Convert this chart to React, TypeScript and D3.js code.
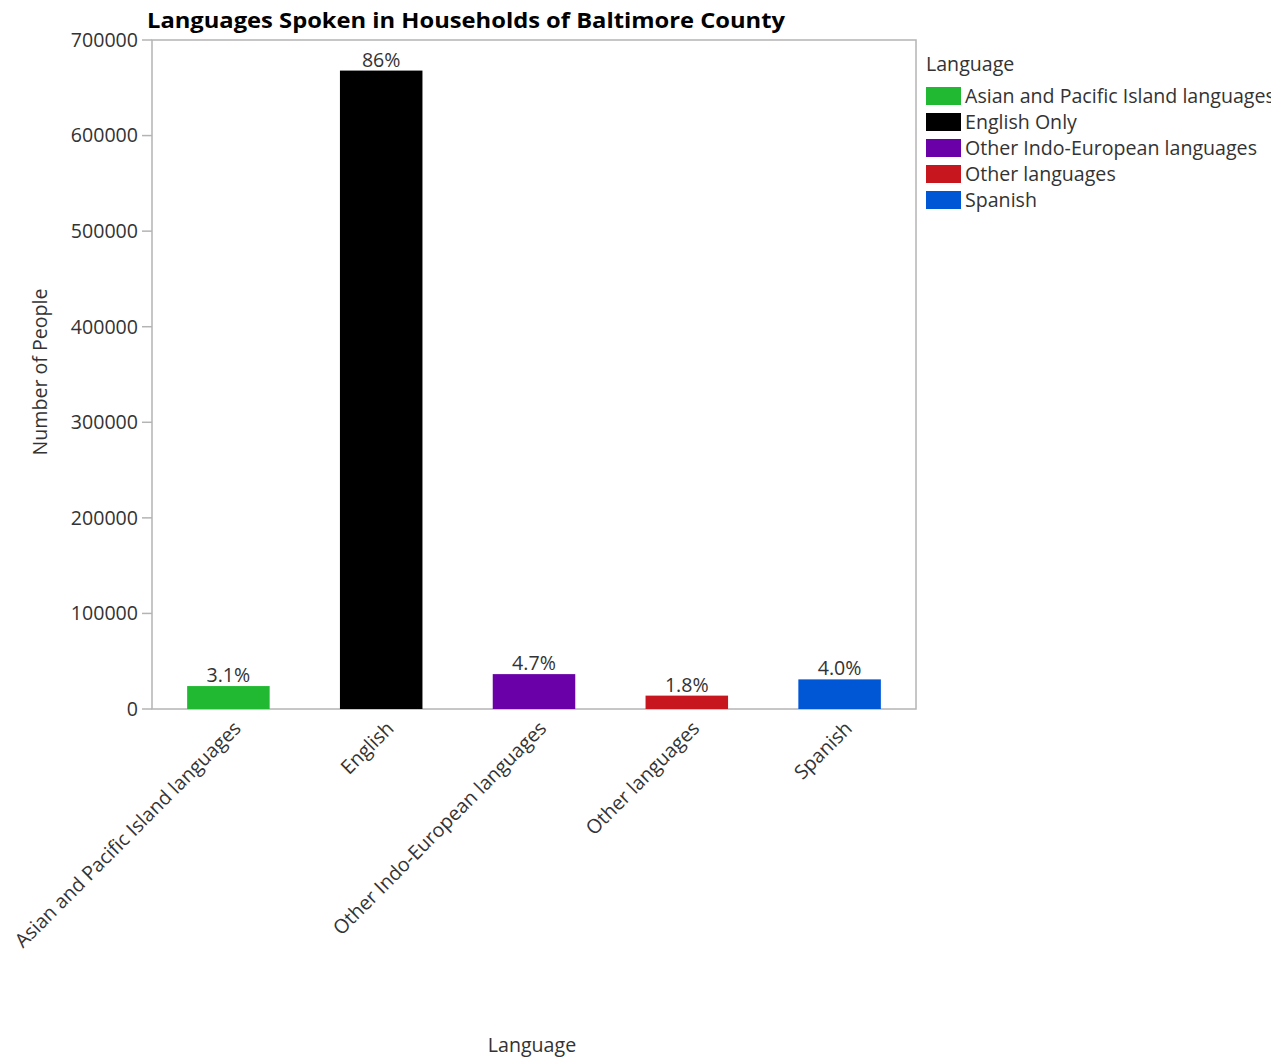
import React from "react";
import * as d3 from "d3";

const categories = [
  "Asian and Pacific Island languages",
  "English",
  "Other Indo-European languages",
  "Other languages",
  "Spanish",
];
const values = [24000, 668000, 36500, 14000, 31000];
const percentLabels = ["3.1%", "86%", "4.7%", "1.8%", "4.0%"];
const legendLabels = [
  "Asian and Pacific Island languages",
  "English Only",
  "Other Indo-European languages",
  "Other languages",
  "Spanish",
];
const colors = ["#22b932", "#000000", "#6a00a8", "#c8161f", "#0057d6"];
const yTicks = [0, 100000, 200000, 300000, 400000, 500000, 600000, 700000];

const FONT = "'Open Sans', 'Noto Sans', sans-serif";
const FS = 19.6;

export default function App() {
  const left = 152, right = 916, top = 40, bottom = 709;
  const x = d3.scaleBand<string>().domain(categories).range([left, right]).paddingInner(0.46).paddingOuter(0.23);
  const y = d3.scaleLinear().domain([0, 700000]).range([bottom, top]);
  const textCol = "#333";
  const axisCol = "#b4b4b4";

  return (
    <svg width={1271} height={1058} style={{ position: "absolute", left: 0, top: 0, background: "#fff" }} fontFamily={FONT}>
      <text x={147} y={28} fontSize={22} fontWeight="bold" fill="#000" textLength={638} lengthAdjust="spacingAndGlyphs">
        Languages Spoken in Households of Baltimore County
      </text>
      {/* plot frame */}
      <rect x={left} y={top} width={right - left} height={bottom - top} fill="none" stroke={axisCol} strokeWidth={1.5} />
      {/* y ticks */}
      {yTicks.map((t) => (
        <g key={t}>
          <line x1={left - 10} x2={left} y1={y(t)} y2={y(t)} stroke={axisCol} strokeWidth={1.5} />
          <text x={left - 14} y={y(t)} dy="0.35em" textAnchor="end" fontSize={FS} fill={textCol}>
            {t}
          </text>
        </g>
      ))}
      {/* bars */}
      {categories.map((c, i) => (
        <g key={c}>
          <rect x={x(c)} y={y(values[i])} width={x.bandwidth()} height={bottom - y(values[i])} fill={colors[i]} />
          <text x={(x(c) as number) + x.bandwidth() / 2} y={y(values[i]) - 4} textAnchor="middle" fontSize={FS} fill={textCol}>
            {percentLabels[i]}
          </text>
          <text
            transform={`translate(${(x(c) as number) + x.bandwidth() / 2 + 4},${bottom + 11}) rotate(-45)`}
            textAnchor="end"
            dy="0.7em"
            fontSize={FS}
            fill={textCol}
          >
            {c}
          </text>
        </g>
      ))}
      {/* axis titles */}
      <text transform={`translate(47,372) rotate(-90)`} textAnchor="middle" fontSize={FS} fill={textCol}>
        Number of People
      </text>
      <text x={532} y={1052} textAnchor="middle" fontSize={FS} fill={textCol}>
        Language
      </text>
      {/* legend */}
      <text x={926} y={71} fontSize={FS} fill={textCol}>
        Language
      </text>
      {legendLabels.map((l, i) => (
        <g key={l}>
          <rect x={926} y={87 + i * 26} width={35} height={18} fill={colors[i]} />
          <text x={965} y={96 + i * 26} dy="0.35em" fontSize={FS} fill={textCol}>
            {l}
          </text>
        </g>
      ))}
    </svg>
  );
}
